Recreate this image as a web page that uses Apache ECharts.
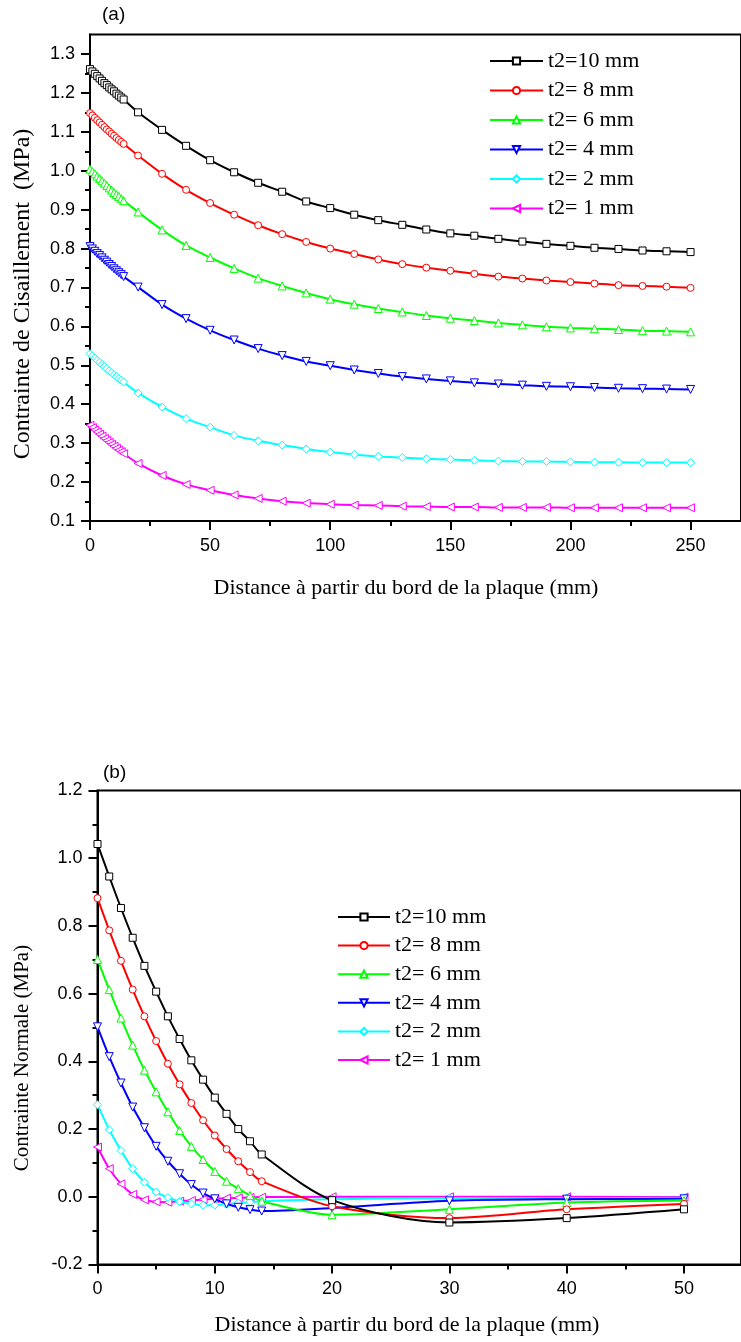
<!DOCTYPE html>
<html>
<head>
<meta charset="utf-8">
<script src="https://cdn.jsdelivr.net/npm/echarts@6/dist/echarts.min.js"></script>
<style>
  html, body { margin: 0; padding: 0; background: #fff; }
  #chart { width: 741px; height: 1342px; }
</style>
</head>
<body>
<div id="chart"></div>
<script>
// ---- (a) shear stress along the plate ----
const xShear = [0, 1, 2, 3, 4, 5, 6, 7, 8, 9, 10, 11, 12, 13, 14,
  20, 30, 40, 50, 60, 70, 80, 90, 100, 110, 120, 130, 140, 150, 160, 170, 180, 190, 200, 210, 220, 230, 240, 250];
const shear10 = [1.261, 1.255, 1.249, 1.243, 1.237, 1.231, 1.225, 1.220, 1.214, 1.209, 1.204, 1.198, 1.193, 1.188, 1.183,
  1.150, 1.105, 1.064, 1.027, 0.996, 0.969, 0.946, 0.921, 0.904, 0.887, 0.873, 0.861, 0.849, 0.839, 0.833, 0.825, 0.818, 0.812, 0.807, 0.802, 0.799, 0.795, 0.793, 0.791];
const shear8 = [1.148, 1.142, 1.136, 1.130, 1.124, 1.118, 1.112, 1.106, 1.101, 1.095, 1.090, 1.084, 1.079, 1.074, 1.069,
  1.039, 0.992, 0.951, 0.917, 0.887, 0.860, 0.837, 0.817, 0.800, 0.786, 0.772, 0.760, 0.751, 0.743, 0.735, 0.728, 0.723, 0.718, 0.714, 0.710, 0.706, 0.704, 0.702, 0.699];
const shear6 = [1.004, 0.998, 0.992, 0.986, 0.980, 0.974, 0.968, 0.962, 0.956, 0.950, 0.944, 0.939, 0.934, 0.928, 0.923,
  0.894, 0.848, 0.808, 0.777, 0.749, 0.724, 0.704, 0.686, 0.670, 0.657, 0.646, 0.637, 0.628, 0.621, 0.615, 0.609, 0.604, 0.599, 0.596, 0.594, 0.592, 0.589, 0.588, 0.586];
const shear4 = [0.805, 0.799, 0.793, 0.787, 0.782, 0.776, 0.770, 0.765, 0.759, 0.754, 0.748, 0.743, 0.738, 0.733, 0.728,
  0.701, 0.656, 0.620, 0.590, 0.565, 0.543, 0.525, 0.510, 0.499, 0.488, 0.479, 0.471, 0.465, 0.460, 0.455, 0.452, 0.449, 0.446, 0.445, 0.443, 0.441, 0.440, 0.439, 0.438];
const shear2 = [0.530, 0.524, 0.519, 0.513, 0.508, 0.502, 0.497, 0.492, 0.486, 0.481, 0.476, 0.471, 0.466, 0.462, 0.457,
  0.429, 0.393, 0.363, 0.341, 0.320, 0.306, 0.295, 0.285, 0.277, 0.271, 0.266, 0.263, 0.260, 0.258, 0.256, 0.254, 0.253, 0.253, 0.252, 0.251, 0.251, 0.250, 0.250, 0.250];
const shear1 = [0.346, 0.340, 0.334, 0.329, 0.323, 0.318, 0.312, 0.307, 0.302, 0.297, 0.292, 0.287, 0.282, 0.278, 0.273,
  0.248, 0.217, 0.194, 0.179, 0.167, 0.158, 0.151, 0.146, 0.143, 0.141, 0.140, 0.138, 0.137, 0.136, 0.136, 0.135, 0.135, 0.135, 0.134, 0.134, 0.134, 0.134, 0.134, 0.134];

// ---- (b) normal stress along the plate ----
const xNormal = [0, 1, 2, 3, 4, 5, 6, 7, 8, 9, 10, 11, 12, 13, 14, 20, 30, 40, 50];
const normal10 = [1.042, 0.946, 0.853, 0.765, 0.682, 0.606, 0.533, 0.466, 0.403, 0.346, 0.293, 0.245, 0.200, 0.164, 0.125, -0.010, -0.076, -0.063, -0.037];
const normal8 = [0.882, 0.787, 0.697, 0.612, 0.533, 0.460, 0.393, 0.332, 0.277, 0.226, 0.181, 0.141, 0.105, 0.073, 0.046, -0.028, -0.063, -0.037, -0.021];
const normal6 = [0.701, 0.612, 0.528, 0.448, 0.374, 0.310, 0.251, 0.196, 0.149, 0.110, 0.075, 0.046, 0.024, 0.004, -0.013, -0.053, -0.037, -0.017, -0.011];
const normal4 = [0.502, 0.414, 0.336, 0.265, 0.204, 0.149, 0.105, 0.068, 0.036, 0.011, -0.006, -0.021, -0.031, -0.038, -0.042, -0.033, -0.012, -0.007, -0.006];
const normal2 = [0.272, 0.198, 0.137, 0.083, 0.043, 0.014, -0.002, -0.014, -0.021, -0.025, -0.025, -0.022, -0.018, -0.016, -0.013, -0.007, -0.004, -0.004, -0.003];
const normal1 = [0.147, 0.083, 0.038, 0.007, -0.009, -0.015, -0.016, -0.013, -0.011, -0.008, -0.006, -0.004, -0.003, -0.002, -0.001, 0.000, 0.000, 0.000, -0.001];

// ---- series labels, tick positions and axis titles ----
const seriesNames = ['t2=10 mm', 't2= 8 mm', 't2= 6 mm', 't2= 4 mm', 't2= 2 mm', 't2= 1 mm'];
const shearTicksX = [0, 50, 100, 150, 200, 250];
const shearMinorX = [25, 75, 125, 175, 225];
const shearTicksY = [0.1, 0.2, 0.3, 0.4, 0.5, 0.6, 0.7, 0.8, 0.9, 1.0, 1.1, 1.2, 1.3];
const shearMinorY = [0.15, 0.25, 0.35, 0.45, 0.55, 0.65, 0.75, 0.85, 0.95, 1.05, 1.15, 1.25];
const normalTicksX = [0, 10, 20, 30, 40, 50];
const normalMinorX = [5, 15, 25, 35, 45];
const normalTicksY = [-0.2, 0.0, 0.2, 0.4, 0.6, 0.8, 1.0, 1.2];
const normalMinorY = [-0.1, 0.1, 0.3, 0.5, 0.7, 0.9, 1.1];
const xTitle = 'Distance à partir du bord de la plaque (mm)';
const shearTitle = 'Contrainte de Cisaillement  (MPa)';
const normalTitle = 'Contrainte Normale (MPa)';

// ---- styling ----
const colors = ['#000000', '#ff0000', '#00ff00', '#0000ff', '#00ffff', '#ff00ff'];
const symbols = ['rect', 'circle', 'triangle', 'triangle', 'diamond', 'triangle'];
const symbolRotations = [0, 0, 0, 180, 0, 90];
const symbolSizes = [7, 7, 8, 8, 8, 8];
const sans = 'Liberation Sans';
const serif = 'Liberation Serif';

const shearSets = [shear10, shear8, shear6, shear4, shear2, shear1];
const normalSets = [normal10, normal8, normal6, normal4, normal2, normal1];

function pairs(xs, ys) { return xs.map((x, i) => [x, ys[i]]); }

function mainAxis(gridIndex, pos, min, max, ticks, fmt, margin) {
  return {
    type: 'value', gridIndex: gridIndex, position: pos, min: min, max: max,
    axisLine: { show: true, onZero: false, lineStyle: { color: '#000', width: 2 } },
    axisTick: { show: true, inside: false, length: 9, customValues: ticks, lineStyle: { color: '#000', width: 2 } },
    axisLabel: { show: true, customValues: ticks, formatter: fmt, color: '#000', fontFamily: sans, fontSize: 18, margin: margin },
    splitLine: { show: false }
  };
}
function minorAxis(gridIndex, pos, min, max, ticks) {
  return {
    type: 'value', gridIndex: gridIndex, position: pos, min: min, max: max,
    axisLine: { show: false, onZero: false },
    axisTick: { show: true, inside: false, length: 5, customValues: ticks, lineStyle: { color: '#000', width: 2 } },
    axisLabel: { show: false },
    splitLine: { show: false }
  };
}
const fmtInt = v => String(Math.round(v));
const fmt1 = v => (Math.abs(v) < 1e-9 ? 0 : v).toFixed(1);

function makeSeries(xs, sets, xIdx, yIdx) {
  return sets.map((ys, i) => ({
    name: seriesNames[i], type: 'line', xAxisIndex: xIdx, yAxisIndex: yIdx,
    data: pairs(xs, ys), smooth: 0.3,
    symbol: symbols[i], symbolRotate: symbolRotations[i], symbolSize: symbolSizes[i],
    showAllSymbol: true, z: 10 - i,
    lineStyle: { color: colors[i], width: 2 },
    itemStyle: { color: '#fff', borderColor: colors[i], borderWidth: 1 },
    emphasis: { disabled: true }, animation: false
  }));
}

function titleText(text, x, y, size, rotated) {
  return {
    type: 'text', x: x, y: y, rotation: rotated ? Math.PI / 2 : 0,
    style: { text: text, font: size + 'px "' + serif + '"', fill: '#000', align: 'center', verticalAlign: 'middle' }
  };
}

const chart = echarts.init(document.getElementById('chart'), null, { renderer: 'canvas' });
chart.setOption({
  backgroundColor: '#fff',
  animation: false,
  grid: [
    { left: 90, top: 34.5, right: -4, bottom: 821, show: true, borderColor: '#000', borderWidth: 2, backgroundColor: 'transparent', containLabel: false },
    { left: 97.5, top: 790.5, right: -4, bottom: 77.5, show: true, borderColor: '#000', borderWidth: 2, backgroundColor: 'transparent', containLabel: false }
  ],
  xAxis: [
    mainAxis(0, 'bottom', 0, 271, shearTicksX, fmtInt, 16),
    minorAxis(0, 'bottom', 0, 271, shearMinorX),
    mainAxis(1, 'bottom', 0, 54.86, normalTicksX, fmtInt, 16),
    minorAxis(1, 'bottom', 0, 54.86, normalMinorX)
  ],
  yAxis: [
    mainAxis(0, 'left', 0.1, 1.35, shearTicksY, fmt1, 15),
    minorAxis(0, 'left', 0.1, 1.35, shearMinorY),
    mainAxis(1, 'left', -0.2, 1.2, normalTicksY, fmt1, 15),
    minorAxis(1, 'left', -0.2, 1.2, normalMinorY)
  ],
  legend: [
    {
      data: seriesNames, orient: 'vertical', left: 484, top: 45,
      itemWidth: 53, itemHeight: 9, itemGap: 7.5, selectedMode: false,
      textStyle: { fontFamily: serif, fontSize: 22, color: '#000' }
    },
    {
      data: seriesNames, orient: 'vertical', left: 332, top: 901,
      itemWidth: 52, itemHeight: 9, itemGap: 6.6, selectedMode: false,
      textStyle: { fontFamily: serif, fontSize: 22, color: '#000' }
    }
  ],
  graphic: [
    { type: 'text', left: 102, top: 5, style: { text: '(a)', font: '19px "Liberation Sans"', fill: '#000' } },
    { type: 'text', left: 103, top: 763, style: { text: '(b)', font: '19px "Liberation Sans"', fill: '#000' } },
    titleText(xTitle, 406, 588, 22, false),
    titleText(xTitle, 407, 1325, 22, false),
    titleText(shearTitle, 23, 294, 24, true),
    titleText(normalTitle, 22, 1058, 21, true)
  ],
  series: makeSeries(xShear, shearSets, 0, 0).concat(makeSeries(xNormal, normalSets, 2, 2))
});
</script>
</body>
</html>
